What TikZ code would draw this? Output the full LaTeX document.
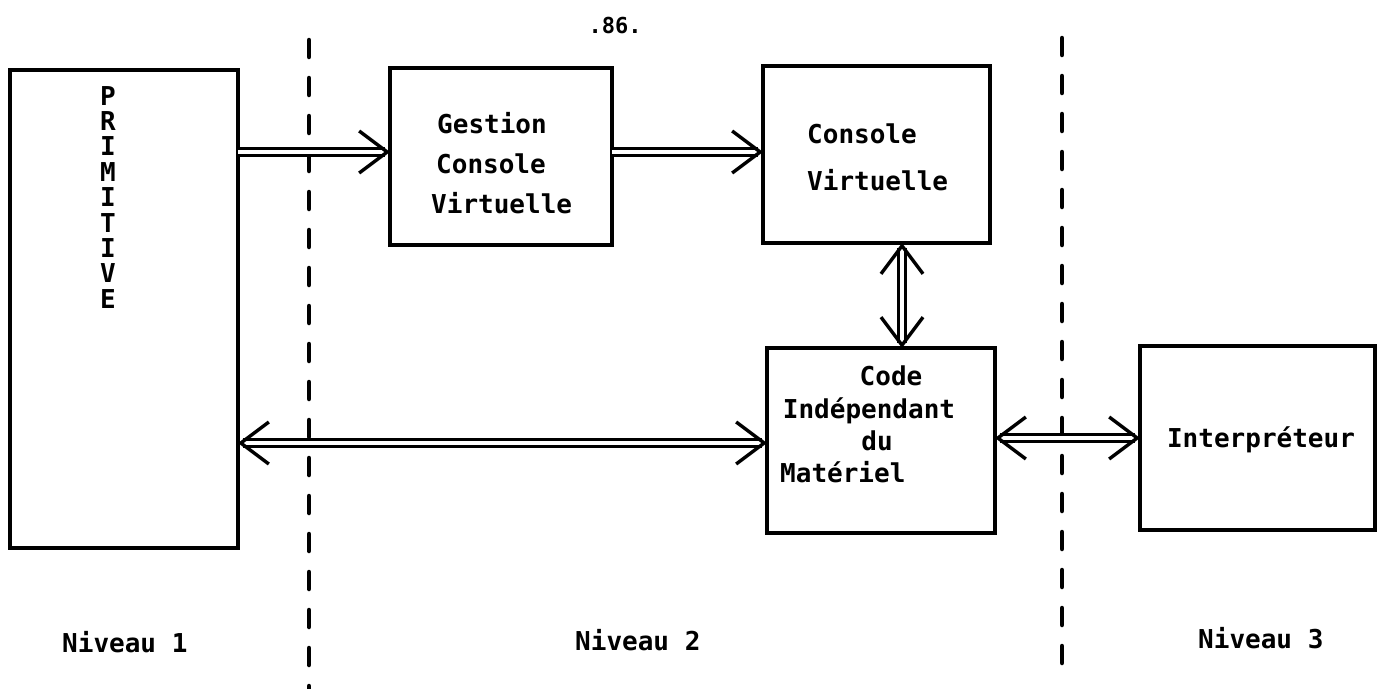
\documentclass[tikz,border=0pt]{standalone}
\usepackage{fontspec}
\setmainfont{DejaVu Sans Mono}
\usetikzlibrary{arrows.meta}

\tikzset{
  blockbox/.style={draw, line width=3.5pt, rectangle, inner sep=0pt, outer sep=0pt},
  lbl/.style={font=\fontsize{26}{33}\selectfont\bfseries, inner sep=0pt, anchor=base west},
  clbl/.style={font=\fontsize{26}{33}\selectfont\bfseries, inner sep=0pt, anchor=base},
  divider/.style={line width=4.5pt, line cap=round, dash pattern=on 17pt off 21pt},
  barb/.tip={Straight Barb[length=28pt,width=42pt,line width=3.4pt]},
  link/.style={double, double distance=4.6pt, line width=3pt},
}

\begin{document}
\begin{tikzpicture}[x=1pt,y=-1pt]
  \useasboundingbox (0,0) rectangle (1383,688);

  % page number
  \node[font=\fontsize{22}{26}\selectfont\bfseries] (page) at (615,26) {.86.};

  % level separators
  \coordinate (d1top) at (309,40);
  \coordinate (d1bot) at (309,690);
  \coordinate (d2top) at (1062,38);
  \coordinate (d2bot) at (1062,682);
  \draw[divider] (d1top) -- (d1bot);
  \draw[divider] (d2top) -- (d2bot);

  % blocks
  \node[blockbox, minimum width=228pt, minimum height=478pt] (prim)   at (124,309) {};
  \node[blockbox, minimum width=222pt, minimum height=177pt] (gest)   at (501,156.5) {};
  \node[blockbox, minimum width=227pt, minimum height=177pt] (cons)   at (876.5,154.5) {};
  \node[blockbox, minimum width=228pt, minimum height=185pt] (code)   at (881,440.5) {};
  \node[blockbox, minimum width=235pt, minimum height=184pt] (interp) at (1257.5,438) {};

  % block texts
  \node[align=center, anchor=north, inner sep=0pt, font=\fontsize{26}{25.4}\selectfont\bfseries] (primtxt) at (108,86)
    {P\\R\\I\\M\\I\\T\\I\\V\\E};

  \node[lbl] (g1) at (437,133) {Gestion};
  \node[lbl] (g2) at (436,173) {Console};
  \node[lbl] (g3) at (431,213) {Virtuelle};

  \node[lbl] (c1) at (807,143) {Console};
  \node[lbl] (c2) at (807,190) {Virtuelle};

  \node[clbl] (k1) at (891,385) {Code};
  \node[clbl] (k2) at (869,418) {Indépendant};
  \node[clbl] (k3) at (877,450) {du};
  \node[lbl]  (k4) at (780,482) {Matériel};

  \node[clbl] (i1) at (1261,447) {Interpréteur};

  % level captions
  \node[lbl] (n1) at (62,652) {Niveau 1};
  \node[lbl] (n2) at (575,650) {Niveau 2};
  \node[lbl] (n3) at (1198,648) {Niveau 3};

  % connections
  \draw[link, -barb] (prim.east |- 0,152) -- (gest.west |- 0,152);
  \draw[link, -barb] (gest.east |- 0,152) -- (cons.west |- 0,152);
  \draw[link, barb-barb] (cons.south -| 902,0) -- (code.north -| 902,0);
  \draw[link, barb-barb] (prim.east |- 0,443) -- (code.west |- 0,443);
  \draw[link, barb-barb] (code.east |- 0,438) -- (interp.west |- 0,438);
\end{tikzpicture}
\end{document}
